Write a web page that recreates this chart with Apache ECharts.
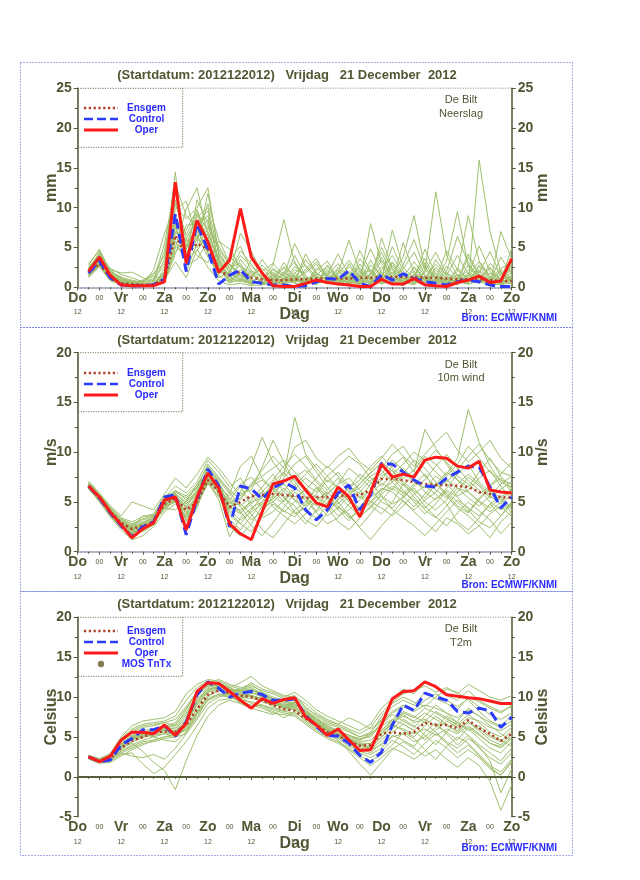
<!DOCTYPE html>
<html><head><meta charset="utf-8">
<script src="https://cdn.jsdelivr.net/npm/echarts@6/dist/echarts.min.js"></script>
<style>html,body{margin:0;padding:0;background:#fff}#c{width:640px;height:880px}</style>
</head><body><div id="c"></div>
<script>
// forecast lead time (hours after 2012-12-20 12 UTC)
const hours = [6,12,18,24,30,36,42,48,54,60,66,72,78,84,90,96,102,108,114,120,126,132,138,144,150,156,162,168,174,180,186,192,198,204,210,216,222,228,234,240];
const dayLabels = ['Do','Vr','Za','Zo','Ma','Di','Wo','Do','Vr','Za','Zo'];
const titleText = '(Startdatum: 2012122012)   Vrijdag   21 December  2012';

// ---------- Neerslag (mm) ----------
const precipOper = [2.0,3.8,1.5,0.3,0.2,0.2,0.2,0.7,13.2,3.0, 8.4,5.7,1.9,3.4,9.9,3.8,1.8,0.2,0.1,0.1, 0.5,0.9,0.6,0.4,0.3,0.1,0.1,1.0,0.4,0.4, 1.1,0.3,0.2,0.1,0.6,0.9,1.4,0.6,0.8,3.6];
const precipControl = [1.8,3.3,1.2,0.3,0.2,0.2,0.3,1.0,9.2,2.0, 8.0,4.7,0.4,1.5,2.2,0.7,0.5,0.3,0.3,0.1, 0.2,0.7,1.1,1.0,2.1,0.5,0.1,1.6,0.9,1.7, 1.1,0.7,0.5,0.3,0.7,0.9,0.7,0.3,0.1,0.1];
const precipEnsgem = [1.8,3.0,1.2,0.5,0.4,0.3,0.4,1.0,6.5,4.0, 5.5,4.8,2.0,1.5,2.0,1.2,1.0,0.9,0.9,1.0, 1.0,1.1,1.1,1.1,1.1,1.2,1.2,1.3,1.3,1.3, 1.3,1.2,1.2,1.1,1.0,1.0,1.0,0.9,0.8,0.8];
const precipMembers = [
[1.8,3.5,1.4,0.6,0.3,0.2,0.4,1.2,7.5,4.0, 6.0,5.2,2.1,1.0,1.8,0.8,0.5,1.5,2.4,1.0, 0.6,1.8,0.9,0.3,1.2,2.5,0.8,1.9,0.6,0.2, 1.4,3.1,0.9,0.4,1.6,0.8,2.2,0.5,0.3,1.1],
[2.3,4.1,1.8,0.9,0.5,0.3,0.2,2.4,11.0,6.5, 9.5,7.0,3.2,0.6,0.9,2.1,1.2,0.4,0.8,2.6, 1.5,0.4,2.8,1.1,0.5,0.9,3.4,1.2,0.4,1.8, 0.7,0.3,2.5,1.0,0.6,3.8,1.4,0.9,2.0,0.6],
[1.5,2.8,1.0,0.4,0.2,0.1,0.6,3.5,14.5,2.0, 5.5,11.8,4.5,2.2,0.8,0.4,1.0,2.8,8.5,3.0, 0.9,1.5,0.4,2.0,0.7,0.3,1.6,5.0,2.2,0.5, 0.9,1.3,0.4,2.7,1.1,0.4,0.8,2.5,1.0,0.4],
[2.0,3.8,2.4,1.6,1.2,0.7,1.4,0.9,5.0,9.8, 12.5,6.5,1.6,3.4,5.2,2.0,0.6,0.2,1.2,0.6, 2.3,3.6,1.2,0.5,3.0,1.0,0.4,0.9,7.2,2.5, 1.1,0.6,1.8,0.5,0.9,2.2,0.6,1.8,0.8,4.9],
[1.2,2.6,0.8,0.3,0.1,0.2,0.3,1.8,9.0,5.5, 4.0,3.1,5.8,4.8,2.5,1.2,3.5,1.6,0.5,1.8, 0.8,0.3,1.6,4.2,1.5,0.6,8.0,3.0,1.2,0.8, 2.4,1.0,0.4,1.5,4.0,1.6,0.7,0.3,1.2,2.2],
[2.8,4.8,1.9,1.1,0.8,0.5,0.3,0.7,4.2,7.8, 8.0,9.6,2.8,1.6,6.8,4.5,1.8,0.7,0.3,0.9, 0.4,1.2,0.6,1.8,5.9,2.0,0.9,0.5,1.6,3.8, 9.0,2.4,1.2,0.6,0.3,1.5,3.2,1.1,0.5,0.9],
[1.6,3.0,1.2,0.5,0.4,0.3,0.8,4.6,12.0,3.5, 6.8,8.5,3.5,0.8,1.2,0.3,0.9,2.2,1.4,5.5, 2.6,1.0,0.5,0.9,0.3,1.4,2.2,0.8,3.2,1.5, 0.5,1.9,12.0,4.0,1.4,0.8,2.6,0.9,0.4,1.5],
[2.5,3.2,2.0,1.3,0.6,0.4,2.2,6.8,10.2,8.6, 10.0,12.5,4.0,2.5,3.0,1.0,0.4,0.9,3.1,1.2, 0.5,2.1,3.3,1.0,0.6,2.9,1.1,0.4,0.9,2.3, 4.4,1.6,0.8,3.3,9.5,2.6,1.0,0.5,1.6,0.8],
[1.9,3.6,1.5,0.7,0.2,0.1,0.2,1.4,6.2,4.8, 7.2,4.2,1.2,1.9,4.0,2.6,1.3,0.5,1.9,0.8, 3.5,1.7,0.8,0.4,2.0,0.9,0.5,6.2,2.4,0.8, 0.4,2.8,1.3,0.9,2.0,9.0,3.3,1.4,0.6,2.9],
[1.4,2.9,0.9,0.4,0.3,0.2,0.5,2.0,8.0,2.8, 3.5,5.8,2.5,0.5,2.2,1.4,2.4,1.0,0.6,1.5, 1.0,0.6,1.4,3.0,1.1,0.4,1.0,2.6,0.9,0.4, 1.7,0.8,2.2,0.7,1.3,0.5,16.0,7.0,1.9,1.0],
[2.2,4.4,2.2,1.8,1.9,1.2,0.6,0.9,3.2,1.2, 4.8,2.5,0.8,0.3,0.5,0.2,0.3,1.3,0.8,2.2, 1.8,2.9,1.1,0.6,0.4,3.6,1.8,0.7,0.4,1.1, 2.0,0.9,0.5,1.2,0.6,1.8,0.9,0.4,7.0,3.5],
[1.7,3.3,1.1,0.5,0.2,0.3,0.4,1.6,9.8,10.8, 6.0,10.5,6.0,3.0,1.5,0.6,0.8,0.3,1.0,0.5, 0.3,0.8,2.0,1.5,0.8,1.9,0.6,1.3,5.1,2.0, 0.8,0.5,1.0,4.6,2.2,0.9,0.5,1.3,0.7,1.9],
[2.6,4.0,1.6,0.8,0.6,0.9,1.8,3.0,7.0,5.2, 9.2,6.0,3.8,1.2,0.7,3.5,1.6,0.8,0.4,1.3, 0.7,1.3,0.4,2.5,1.0,0.5,2.8,1.6,0.6,5.6, 1.8,0.6,3.5,1.4,0.5,2.8,1.2,2.4,0.9,0.5],
[1.3,2.7,1.0,0.6,0.4,0.2,0.3,0.6,5.8,3.2, 11.0,8.0,2.2,0.9,3.5,1.8,0.5,1.9,0.9,4.0, 1.4,0.5,0.9,0.6,2.6,1.2,0.4,1.0,1.9,0.7, 0.3,1.4,0.6,0.3,0.8,1.2,2.0,0.6,0.3,0.6],
[3.0,4.6,2.2,1.0,0.7,0.4,0.9,5.5,13.0,9.0, 7.5,4.5,1.5,0.6,1.0,0.5,2.0,3.0,1.5,0.7, 4.2,1.8,0.7,1.2,0.5,0.8,1.5,3.8,1.2,0.6, 1.0,4.8,1.6,0.8,0.4,0.9,1.8,4.5,1.4,0.7],
[1.9,3.4,1.3,0.3,0.1,0.1,0.2,1.0,4.5,6.0, 5.0,7.5,4.8,2.8,1.4,0.9,0.3,0.6,2.0,0.9, 0.6,0.9,1.8,0.7,1.4,0.5,1.3,0.6,2.7,1.0, 0.6,1.1,0.8,1.9,0.7,0.4,1.0,0.8,0.5,1.4],
[2.1,3.9,1.7,0.8,0.4,0.2,0.5,1.9,8.6,5.0, 7.8,9.0,3.0,1.4,2.8,1.6,0.7,1.1,0.5,1.8, 2.8,1.3,0.6,1.6,3.4,1.4,0.6,2.2,4.0,1.6, 0.5,1.2,2.9,1.5,0.4,1.6,5.2,2.0,0.8,2.6],
[1.6,3.1,1.3,0.7,0.5,0.4,0.3,1.1,6.8,7.2, 9.8,5.5,2.6,0.9,1.6,0.6,1.5,0.8,2.6,1.4, 0.5,2.4,1.5,0.7,1.0,4.6,2.0,0.9,0.5,2.8, 6.0,2.2,1.0,0.5,2.4,1.0,0.6,3.0,1.8,0.9],
[2.4,4.3,2.0,1.2,0.9,0.6,1.1,2.7,12.6,4.4, 6.3,7.8,5.2,2.8,1.1,0.7,0.4,1.6,1.1,0.6, 1.2,0.7,2.3,0.9,0.6,1.6,4.8,1.8,0.7,1.3, 3.2,1.4,0.6,2.0,6.4,3.0,1.2,0.6,2.2,1.2],
[1.5,2.6,1.1,0.4,0.2,0.1,0.2,0.8,5.2,3.8, 4.6,6.8,3.4,2.0,4.6,2.9,1.1,0.5,1.7,3.2, 1.1,0.5,1.0,2.2,0.8,0.4,1.8,4.4,1.6,0.6, 1.5,3.6,1.2,0.6,1.0,4.2,1.6,0.8,3.8,1.6],
[2.0,3.7,1.6,0.9,0.6,0.8,1.6,4.0,10.6,6.0, 8.8,10.0,4.2,1.8,0.9,0.5,0.8,2.4,1.3,0.8, 2.0,3.2,1.4,0.5,1.8,0.9,0.5,1.4,3.0,1.2, 0.6,2.0,4.4,1.7,0.8,0.5,2.8,1.4,0.5,1.2],
[1.8,3.2,1.2,0.5,0.3,0.2,0.4,1.5,7.9,5.8, 6.6,3.8,1.8,3.8,2.6,1.2,2.8,1.4,0.6,1.1, 0.8,1.6,2.6,1.3,0.6,2.2,1.0,3.4,1.3,0.5, 2.6,1.1,0.5,0.9,1.6,0.7,1.5,1.0,2.4,3.0]
];

// ---------- 10m wind (m/s) ----------
const windOper = [6.6,5.5,4.0,2.7,1.4,2.3,2.9,5.2,5.5,2.2, 5.5,7.9,6.4,2.8,1.8,1.2,4.0,6.8,7.1,7.6, 6.2,4.9,4.5,6.5,5.5,3.5,6.0,8.8,7.5,7.8, 7.5,9.2,9.5,9.4,8.6,8.4,9.1,6.2,6.0,5.9];
const windControl = [6.6,5.4,3.9,2.6,1.5,2.5,3.0,5.5,5.7,1.7, 5.3,8.3,6.6,2.5,6.6,6.3,5.3,6.4,7.0,6.4, 4.2,3.2,4.2,5.9,6.7,4.2,5.7,8.9,8.8,8.0, 7.2,6.6,6.5,7.4,8.0,8.6,8.5,6.5,4.4,5.5];
const windEnsgem = [6.6,5.4,4.0,2.9,2.3,2.6,3.0,4.8,5.3,4.2, 5.0,7.2,6.0,4.5,5.0,5.6,5.7,5.8,5.7,5.6, 5.4,5.5,5.5,5.6,5.6,5.7,6.2,7.3,7.3,7.2, 7.0,6.8,6.7,6.7,6.6,6.5,6.0,5.8,5.5,5.4];
const windMembers = [
[6.8,5.6,4.2,3.1,2.4,2.8,3.2,5.0,5.6,4.5, 6.2,8.0,6.8,4.5,3.8,5.2,6.5,7.8,6.0,5.2, 4.6,5.8,7.2,6.4,5.0,4.3,6.0,7.6,8.2,7.0, 6.1,5.4,6.8,8.0,7.2,6.0,5.1,4.4,5.5,6.2],
[6.5,5.2,3.6,2.4,1.8,2.2,2.8,4.4,5.0,3.6, 5.5,7.6,6.4,5.6,6.8,7.5,6.2,5.0,4.1,3.5, 4.8,6.5,5.6,4.2,3.1,4.5,5.8,6.9,6.2,7.8, 9.2,8.4,7.0,5.8,4.6,3.9,5.2,6.6,7.4,6.0],
[7.0,5.8,4.5,3.4,3.0,3.5,3.8,5.6,6.0,5.4, 6.5,8.8,7.5,6.0,4.5,3.2,4.0,5.5,7.4,8.8, 9.6,8.0,6.5,5.2,6.4,7.8,7.0,5.6,4.8,5.4, 6.6,7.2,8.6,9.8,8.4,7.1,6.2,5.0,4.2,4.8],
[6.6,5.3,3.9,2.7,2.0,2.4,3.0,4.6,5.4,2.0, 5.0,7.8,5.8,2.5,1.6,2.8,4.6,6.0,6.8,5.5, 6.2,4.8,3.6,4.4,5.6,6.8,7.9,9.0,8.1,6.8, 5.5,4.2,3.4,4.6,6.0,7.5,6.6,5.4,6.3,7.0],
[6.4,5.0,3.5,2.2,1.2,1.6,2.5,4.0,4.8,4.0, 5.8,7.2,6.0,4.8,5.8,6.2,8.5,11.2,9.0,7.0, 5.6,4.0,4.9,6.0,5.2,4.4,5.5,6.2,7.0,8.4, 7.3,6.0,5.2,6.4,7.8,8.8,7.0,6.0,5.2,4.5],
[6.9,5.7,4.4,3.3,2.7,3.2,3.5,5.2,5.8,4.8, 6.0,8.5,7.0,3.6,2.8,4.2,5.6,6.5,5.4,4.6, 3.2,2.5,3.9,5.2,6.6,5.8,4.9,6.0,7.4,6.2, 5.0,3.8,4.8,6.2,5.5,4.2,3.0,2.4,3.6,5.0],
[6.7,5.5,4.1,2.9,2.6,3.0,3.3,5.4,6.6,5.9, 7.0,9.2,8.0,6.5,7.4,5.8,4.4,5.0,6.1,7.5, 8.2,7.0,5.8,6.8,8.4,7.5,6.4,7.2,8.6,9.5, 8.0,12.3,10.4,8.8,7.2,6.5,8.0,9.4,7.6,6.4],
[6.3,5.1,3.7,2.5,1.9,2.6,3.1,4.2,5.2,3.2, 4.6,7.0,5.5,5.0,3.9,4.8,6.0,4.5,3.6,2.8, 3.8,5.2,6.0,5.0,3.6,2.5,3.8,5.2,6.4,5.6, 4.5,5.8,6.9,5.6,4.4,3.6,2.6,3.8,4.6,3.5],
[6.8,5.4,4.0,3.0,2.2,2.0,2.7,4.8,5.5,4.4, 5.4,8.0,6.6,4.2,6.0,8.6,11.5,9.0,7.6,13.5, 9.8,8.4,7.0,8.0,6.6,5.4,6.8,8.4,9.8,10.6, 9.0,7.6,6.5,7.8,9.4,14.3,11.0,8.6,7.0,6.4],
[6.6,5.6,4.3,3.2,2.5,2.1,2.9,5.0,5.1,2.6, 4.4,7.4,6.2,5.2,4.0,2.6,1.6,2.9,4.4,6.0, 5.2,3.9,2.8,3.4,4.8,5.6,4.6,3.8,5.0,6.8, 5.9,4.6,3.5,2.6,3.9,5.0,4.1,3.2,1.8,3.0],
[7.1,5.9,4.6,3.6,5.0,4.6,4.2,5.8,7.4,6.4, 7.8,9.5,8.4,7.0,5.6,6.8,7.6,8.4,9.2,8.0, 6.8,6.0,7.6,8.6,9.6,8.8,7.4,6.6,7.8,8.8, 10.0,9.2,8.0,7.0,8.2,9.6,10.8,9.2,8.0,7.6],
[6.5,5.3,3.8,2.6,1.6,2.3,3.4,4.6,5.0,4.2, 5.2,7.0,5.2,1.5,3.4,4.4,5.0,6.4,5.6,4.0, 2.8,4.2,5.4,4.6,3.4,4.0,5.0,4.4,3.6,4.6, 5.8,6.6,5.8,4.8,3.0,2.2,3.4,4.8,5.6,4.2],
[6.4,5.2,3.8,2.8,2.4,3.6,3.6,4.4,4.2,5.0, 6.8,7.8,6.6,5.4,4.6,5.5,6.0,7.2,8.6,9.8, 8.6,7.2,6.2,7.4,6.0,6.8,8.0,8.8,7.6,6.6, 7.8,9.0,10.2,9.0,7.6,6.8,5.8,6.6,7.8,9.0],
[6.7,5.4,3.9,2.6,1.8,2.5,2.7,4.9,5.7,3.9, 4.8,6.8,5.6,4.0,2.8,2.0,3.6,4.8,4.0,5.0, 6.4,5.4,4.5,3.0,2.2,3.4,4.6,5.6,4.2,3.4, 2.6,1.6,2.8,4.0,5.2,4.4,3.6,4.8,3.6,4.8],
[6.6,5.5,4.1,3.0,2.3,2.7,3.2,5.1,6.2,5.2, 6.4,8.2,7.2,5.8,8.6,9.6,7.4,6.2,8.0,10.5, 11.2,9.4,8.4,9.6,10.4,9.0,8.2,9.4,10.8,9.6, 8.6,9.8,11.0,12.0,10.2,9.0,10.0,11.2,9.4,8.4],
[6.5,5.4,4.0,2.8,2.1,2.9,3.6,5.3,5.9,3.0, 5.6,7.5,6.2,4.6,4.8,3.8,2.2,1.4,2.8,4.2, 5.0,6.4,5.2,4.4,3.8,2.4,1.2,2.6,3.8,5.2, 4.0,3.0,2.0,3.4,2.8,1.8,2.6,1.4,3.0,4.0],
[6.7,5.5,4.1,3.0,2.3,2.4,3.0,4.9,5.6,4.6, 5.9,7.9,6.5,4.9,5.4,6.6,7.2,6.2,5.0,6.3, 7.4,6.6,5.5,4.8,5.9,6.4,7.6,8.2,7.0,5.8, 6.8,7.8,6.2,5.4,6.8,7.8,6.8,5.6,6.8,7.6],
[6.5,5.3,3.8,2.7,2.1,2.7,3.2,4.7,5.4,3.8, 5.2,7.3,6.1,4.4,4.2,5.0,5.4,7.0,8.0,6.6, 5.4,4.6,5.8,6.8,7.4,6.2,5.0,6.4,6.0,5.0, 4.2,5.2,6.0,7.2,6.4,5.4,4.6,5.6,4.8,5.8],
[6.8,5.6,4.2,3.1,2.5,2.9,3.4,5.1,5.8,5.0, 6.1,8.2,6.9,5.2,6.6,4.6,3.4,4.0,5.2,6.6, 7.8,8.8,7.6,6.4,5.4,6.0,7.2,7.8,9.2,8.2, 7.0,6.4,7.6,6.8,5.6,6.2,7.4,8.2,6.6,5.2],
[6.6,5.4,4.0,2.8,2.2,2.6,2.9,4.7,5.3,3.4, 4.9,7.1,5.9,3.2,2.2,3.6,5.0,5.6,4.8,3.8, 4.4,5.6,4.8,3.6,4.2,5.2,6.2,5.0,4.4,5.6, 6.4,5.0,4.2,5.2,6.4,6.0,5.0,4.0,5.0,6.4],
[6.9,5.7,4.3,3.3,2.8,3.3,3.7,5.3,6.1,5.6, 6.7,8.6,7.3,6.2,5.2,6.8,8.2,9.6,8.4,7.2, 6.2,7.4,8.6,7.6,6.4,7.2,8.6,9.6,8.4,7.4, 8.2,9.6,8.8,7.6,8.8,10.6,9.4,8.0,7.2,6.8],
[6.4,5.2,3.7,2.5,1.9,2.5,2.8,4.5,5.1,3.5, 5.0,7.2,6.0,4.2,3.2,4.0,4.8,5.3,6.4,5.2, 4.0,3.4,4.6,5.6,4.6,3.6,4.4,5.8,6.6,6.0, 5.2,4.4,5.4,6.0,5.0,4.0,5.4,6.2,5.4,3.8]
];

// ---------- T2m (Celsius) ----------
const tempOper = [2.5,1.9,2.6,4.6,5.6,5.6,5.4,6.5,5.2,6.7, 10.7,11.8,11.7,10.7,9.6,8.6,9.8,9.2,9.7,9.9, 7.5,6.5,5.2,6.0,4.6,3.3,3.4,6.5,9.8,10.7, 10.8,11.9,11.3,10.3,10.1,9.9,9.8,9.5,9.2,9.2];
const tempControl = [2.5,1.9,2.1,4.0,4.8,5.9,5.9,6.4,5.1,6.9, 10.3,11.9,11.1,10.0,10.5,10.7,10.3,9.6,9.6,9.8, 7.7,6.3,5.2,5.1,4.2,2.7,1.8,3.1,6.5,9.0, 8.3,10.5,10.0,9.6,8.2,8.0,8.6,8.3,6.2,7.5];
const tempEnsgem = [2.5,2.0,2.3,3.6,4.5,5.0,5.5,5.7,5.6,6.5, 8.5,10.3,10.8,10.5,10.2,10.0,9.6,9.0,8.5,8.3, 7.3,6.5,5.6,5.2,4.4,3.9,4.0,5.4,5.6,5.4, 5.6,6.8,6.5,6.5,6.1,7.1,6.1,5.4,4.5,5.4];
const tempMos = [];
const tempMembers = [
[2.6,2.1,2.5,4.2,5.2,5.6,5.8,6.2,6.0,7.5, 10.2,11.4,11.6,11.0,10.6,10.9,10.2,9.6,9.0,9.2, 8.0,7.0,6.2,5.6,5.0,4.4,4.6,5.8,7.2,8.0, 7.4,8.6,8.0,7.2,6.6,7.8,6.8,5.6,5.0,6.2],
[2.4,1.9,2.2,3.4,4.4,4.9,5.4,5.6,5.2,6.2, 8.6,10.8,11.2,10.4,10.0,10.2,9.8,9.2,8.6,8.4, 7.4,6.4,5.8,5.2,4.2,3.2,2.8,3.6,5.2,4.6, 3.8,5.6,6.8,5.4,4.0,5.2,3.6,2.4,1.6,3.0],
[2.5,2.0,2.6,4.6,5.8,6.4,6.6,6.8,6.4,8.4, 10.8,11.8,12.2,11.6,11.2,11.4,10.8,10.4,9.8,10.2, 8.8,7.6,6.8,6.4,5.8,5.0,5.6,7.2,8.8,9.6, 9.0,10.6,9.8,9.2,8.4,10.0,9.4,8.6,8.0,9.0],
[2.2,1.7,1.8,2.6,3.4,4.0,4.6,5.0,5.4,5.8, 7.4,9.8,10.4,10.0,9.6,9.4,9.0,8.4,8.0,7.8, 6.8,5.8,5.0,4.4,3.6,2.6,2.0,2.8,4.0,5.6, 4.8,3.4,2.2,3.8,5.0,4.2,2.8,1.4,0.6,2.2],
[2.7,2.2,2.8,4.8,6.0,6.6,6.8,7.0,7.6,9.6, 11.2,12.0,11.8,11.2,11.8,12.6,11.4,10.8,10.2,10.0, 9.2,8.0,7.2,6.6,6.0,5.4,6.2,8.0,9.4,10.4, 10.8,11.4,10.6,11.2,10.4,11.6,10.8,10.0,9.6,10.2],
[2.3,1.8,2.0,2.8,3.0,1.6,0.4,1.2,2.8,4.4, 6.4,8.6,9.6,9.8,10.0,9.2,8.8,8.2,7.4,8.2, 7.0,6.0,5.4,4.8,3.8,3.4,4.0,5.4,6.6,5.8, 5.0,6.4,7.6,6.6,5.6,6.8,5.8,4.6,4.0,5.4],
[2.5,1.9,2.3,3.8,4.8,5.2,5.6,5.8,5.6,7.0, 9.4,11.0,11.4,11.2,10.6,10.0,9.6,9.4,8.8,8.6, 7.6,6.6,5.6,5.0,4.6,3.8,3.4,4.6,6.0,7.2, 6.4,5.2,4.0,5.6,7.0,8.6,7.6,6.4,5.4,4.6],
[2.6,2.0,2.4,4.0,5.0,5.4,5.0,4.6,4.4,5.6, 8.0,10.0,11.0,10.8,10.4,10.6,10.0,9.8,9.4,9.0, 8.4,7.4,6.4,5.8,5.2,4.8,5.0,6.6,7.8,7.0, 6.2,7.6,9.0,8.0,6.8,6.0,4.8,3.6,3.0,4.4],
[2.4,2.0,2.4,3.6,4.2,3.2,1.8,0.8,-1.6,2.0, 5.2,7.6,9.0,9.6,9.2,8.6,8.2,7.8,8.6,9.4, 8.0,6.8,6.0,5.4,4.8,4.0,3.6,5.0,6.4,8.2, 7.6,6.8,5.6,4.4,3.6,4.8,3.8,2.0,-2.0,1.0],
[2.5,2.1,2.6,4.4,5.4,5.8,6.0,6.4,6.2,7.8, 9.8,11.2,11.6,10.8,10.2,10.4,10.6,10.0,9.6,10.0, 8.6,7.8,7.0,6.6,7.4,6.8,6.0,7.0,8.2,9.0, 8.4,9.6,10.4,9.6,8.8,9.8,8.8,7.8,7.2,8.0],
[2.3,1.8,2.1,3.2,4.0,4.6,5.0,5.4,5.0,6.0, 8.2,10.2,10.8,10.2,9.8,10.2,9.6,8.8,8.2,8.0, 7.2,6.2,5.4,4.6,3.2,1.6,0.2,1.8,3.4,4.4, 3.6,2.6,3.4,2.2,1.2,2.4,1.4,-0.6,-4.2,-1.0],
[2.6,2.1,2.6,4.4,5.6,6.2,6.4,6.8,7.2,8.8, 10.6,11.6,11.8,11.0,10.8,11.0,10.4,9.8,9.4,9.6, 8.4,7.2,6.2,5.6,5.2,4.6,5.4,7.6,9.2,10.0, 9.4,8.8,10.0,11.0,10.6,9.6,8.2,7.0,6.4,7.6],
[2.4,1.9,2.2,3.6,4.6,5.0,5.2,5.4,5.8,6.8, 9.0,10.6,11.0,10.6,10.8,11.6,10.6,9.6,8.8,9.0, 8.2,7.0,6.0,5.4,4.4,3.6,3.0,4.2,5.6,6.6, 5.8,4.6,5.8,7.0,6.2,5.2,4.0,3.0,2.0,3.6],
[2.7,2.3,2.9,5.0,6.4,7.0,7.2,7.4,8.2,10.4, 11.6,12.2,12.0,11.4,11.0,11.8,11.0,10.6,10.0,10.6, 9.6,8.4,7.6,7.0,6.4,5.8,6.6,8.6,9.8,11.0, 10.4,11.8,11.2,10.2,9.6,10.8,9.6,8.8,8.2,8.8],
[2.5,2.0,2.3,3.0,2.6,2.4,2.8,2.2,3.6,5.4, 7.2,9.2,10.0,10.4,9.2,8.8,9.0,8.6,8.2,8.8, 7.8,6.8,6.0,5.0,4.0,3.0,2.4,3.2,4.6,3.8, 2.8,4.2,5.4,4.2,3.0,4.0,2.6,1.2,0.2,1.8],
[2.5,2.0,2.5,4.0,5.0,5.4,5.8,6.0,5.8,7.2, 9.6,11.0,11.2,10.6,10.2,10.2,9.4,9.0,8.8,8.8, 7.8,6.6,5.8,5.2,4.6,4.0,4.2,5.4,6.8,7.6, 7.0,8.0,7.2,6.4,5.8,7.0,6.0,5.0,4.4,5.8],
[2.5,2.0,2.4,3.9,4.9,5.3,5.7,6.1,6.6,8.0, 10.4,11.6,11.4,10.8,11.0,11.2,10.4,9.8,9.2,9.4, 8.2,7.2,6.4,5.8,5.2,4.6,5.2,6.8,8.0,8.8, 8.2,9.0,8.6,8.0,7.4,8.4,7.6,6.8,6.2,7.0],
[2.4,1.9,2.3,3.7,4.7,5.3,5.5,5.9,5.5,6.6, 9.2,10.6,11.0,10.6,10.4,10.2,9.8,9.2,8.6,8.8, 7.8,6.8,5.8,5.2,4.6,4.0,3.8,5.0,6.4,6.0, 5.4,6.0,5.2,6.0,5.4,6.4,5.4,4.2,3.6,4.8],
[2.6,2.1,2.5,4.1,5.1,5.5,5.9,6.3,6.8,8.6, 10.6,11.4,11.4,10.8,10.8,11.0,10.2,9.6,9.0,9.2, 8.0,6.8,6.0,5.4,4.8,4.2,4.2,5.6,7.0,7.8, 6.8,7.2,6.4,5.6,4.6,6.2,5.2,4.2,3.8,5.0],
[2.4,1.9,2.2,3.2,3.8,4.4,4.6,5.0,5.2,6.0, 8.0,9.6,10.4,10.2,10.0,9.8,9.6,9.2,8.8,8.6, 7.6,6.6,5.8,5.4,4.8,4.2,3.4,4.0,5.0,5.4, 4.4,5.0,6.2,7.6,6.8,5.8,6.4,5.2,4.6,3.8],
[2.5,2.0,2.4,3.8,4.8,5.1,5.4,5.8,5.6,6.8, 9.4,10.8,11.4,11.0,10.6,10.6,10.0,9.4,8.8,9.2, 8.0,7.2,6.6,6.2,5.6,5.0,5.4,6.4,7.2,6.6, 5.8,7.0,8.2,7.4,6.4,7.4,7.0,6.2,5.8,6.6],
[2.3,1.8,2.0,3.0,3.6,4.2,4.4,4.8,5.0,5.4, 7.8,9.6,10.2,10.0,9.4,9.0,8.6,8.0,7.8,7.6, 6.6,5.6,4.8,4.2,3.4,2.4,1.4,2.4,3.6,3.0, 2.2,3.2,4.6,3.6,2.4,3.4,2.4,1.0,0.2,2.0]
];

// ---------- layout / style ----------
const FONT = 'Liberation Sans, Arial, sans-serif';
const TXT = '#4f5733';
const BLUE = '#2b2bff';
const GREEN = '#9fc06f';
const GL = 77.7, GW = 434;
const panels = [
  {top: 88.3, height: 199, min: 0, max: 25, unit: 'mm', station: 'Neerslag',
   oper: precipOper, control: precipControl, ensgem: precipEnsgem, members: precipMembers,
   frameTop: 62, frameBottom: 327, legendTop: 98, legendH: 59, bronY: 318, mos: false},
  {top: 352.7, height: 199, min: 0, max: 20, unit: 'm/s', station: '10m wind',
   oper: windOper, control: windControl, ensgem: windEnsgem, members: windMembers,
   frameTop: 327, frameBottom: 591, legendTop: 363, legendH: 59, bronY: 585, mos: false},
  {top: 617.3, height: 199.4, min: -5, max: 20, unit: 'Celsius', station: 'T2m',
   oper: tempOper, control: tempControl, ensgem: tempEnsgem, members: tempMembers,
   frameTop: 591, frameBottom: 855, legendTop: 621, legendH: 59, bronY: 848, mos: true}
];

// legend icon shapes (34 x 9 box)
function boxPath(inner) { return 'path://M0,0h0.05v0.05h-0.05zM33.95,8.95h0.05v0.05h-0.05z' + inner; }
function segs(len, gap) {
  let s = '', x = 0;
  while (x < 34) { const w = Math.min(len, 34 - x); s += 'M' + x + ',3.2h' + w + 'v2.6h-' + w + 'z'; x += len + gap; }
  return s;
}
const ICONS = {
  'Ensgem': boxPath(segs(2.2, 2.6)),
  'Control': boxPath(segs(9, 4)),
  'Oper': boxPath('M0,3h34v3h-34z'),
  'MOS TnTx': boxPath('M20.2,4.5a3.2,3.2 0 1,0 -6.4,0a3.2,3.2 0 1,0 6.4,0z')
};

const pairs = arr => hours.map((h, i) => [h, arr[i]]);

const grid = [], xAxis = [], yAxis = [], series = [], legend = [], graphic = [];
panels.forEach((p, k) => {
  grid.push({left: GL, top: p.top, width: GW, height: p.height, containLabel: false});
  xAxis.push({
    gridIndex: k, type: 'value', min: 0, max: 240, interval: 12,
    name: 'Dag', nameLocation: 'middle', nameGap: 19, nameMoveOverlap: false,
    nameTextStyle: {fontSize: 16, fontWeight: 'bold', color: TXT, fontFamily: FONT, backgroundColor: '#fff', padding: [0, 2]},
    axisLine: {show: true, lineStyle: {color: '#7f8fa8', type: 'dotted', width: 1.5}},
    axisTick: {show: true, length: 3, lineStyle: {color: TXT}},
    minorTick: {show: true, splitNumber: 2, length: 2, lineStyle: {color: TXT}},
    splitLine: {show: false},
    axisLabel: {
      margin: 3, showMinLabel: true, showMaxLabel: true,
      formatter: v => {
        const d = v / 24;
        return Number.isInteger(d) ? '{d|' + dayLabels[d] + '}\n{s|12}' : '{z|00}';
      },
      rich: {
        d: {fontSize: 14, fontWeight: 'bold', color: TXT, lineHeight: 15, fontFamily: FONT},
        s: {fontSize: 7, color: TXT, lineHeight: 14, fontFamily: FONT},
        z: {fontSize: 7, color: TXT, lineHeight: 15, fontFamily: FONT}
      }
    }
  });
  ['left', 'right'].forEach(pos => {
    yAxis.push({
      gridIndex: k, type: 'value', position: pos, min: p.min, max: p.max, interval: 5,
      name: p.unit, nameLocation: 'middle', nameGap: pos === 'left' ? 18 : 23, nameMoveOverlap: false,
      nameTextStyle: {fontSize: 16, fontWeight: 'bold', color: TXT, fontFamily: FONT},
      axisLine: {show: true, lineStyle: {color: TXT, width: 1.5}},
      axisTick: {show: true, length: 4, lineStyle: {color: TXT}},
      minorTick: {show: true, splitNumber: 2, length: 3, lineStyle: {color: TXT}},
      splitLine: {show: false},
      axisLabel: {fontSize: 14, fontWeight: 'bold', color: TXT, fontFamily: FONT, margin: 6}
    });
  });
  const xi = k, yi = k * 2;
  p.members.forEach((m, j) => series.push({
    name: 'member' + k + '_' + j, type: 'line', xAxisIndex: xi, yAxisIndex: yi,
    data: pairs(m), symbol: 'none', silent: true, z: 1,
    lineStyle: {color: GREEN, width: 1}
  }));
  const ens = {
    name: 'Ensgem', type: 'line', xAxisIndex: xi, yAxisIndex: yi, data: pairs(p.ensgem),
    symbol: 'none', z: 3, color: '#b03a24',
    lineStyle: {color: '#b03a24', width: 2.5, type: [2, 3]}
  };
  if (p.mos) {
    ens.markLine = {silent: true, symbol: 'none', label: {show: false},
      lineStyle: {color: '#55603a', width: 2, type: 'solid'}, data: [{yAxis: 0}]};
  }
  series.push(ens);
  series.push({
    name: 'Control', type: 'line', xAxisIndex: xi, yAxisIndex: yi, data: pairs(p.control),
    symbol: 'none', z: 4, color: '#2b3bff',
    lineStyle: {color: '#2b3bff', width: 3, type: [10, 5]}
  });
  series.push({
    name: 'Oper', type: 'line', xAxisIndex: xi, yAxisIndex: yi, data: pairs(p.oper),
    symbol: 'none', z: 5, color: '#ff1a1a',
    lineStyle: {color: '#ff1a1a', width: 3}
  });
  const names = ['Ensgem', 'Control', 'Oper'];
  if (p.mos) {
    series.push({name: 'MOS TnTx', type: 'scatter', xAxisIndex: xi, yAxisIndex: yi,
      data: tempMos, symbolSize: 7, itemStyle: {color: '#6a5a2a'}});
    names.push('MOS TnTx');
  }
  legend.push({
    data: names.map(n => ({name: n, icon: ICONS[n]})), orient: 'vertical', left: 79, top: p.legendTop,
    itemWidth: 34, itemHeight: 9, itemGap: 1, selectedMode: false,
    formatter: n => '{c|' + n + '}',
    textStyle: {color: BLUE, fontSize: 10, fontWeight: 'bold', fontFamily: FONT, lineHeight: 10,
      rich: {c: {width: 47, align: 'center', color: BLUE, fontSize: 10, fontWeight: 'bold', fontFamily: FONT, lineHeight: 10}}}
  });
  // frame, legend box, top border, texts
  graphic.push({type: 'rect', shape: {x: 20.5, y: p.frameTop + 0.5, width: 552, height: p.frameBottom - p.frameTop},
    style: {fill: null, stroke: '#4a5ad0', lineWidth: 1, lineDash: [1, 2]}, silent: true, z: 0});
  graphic.push({type: 'rect', shape: {x: GL, y: p.top, width: 105, height: p.legendH},
    style: {fill: null, stroke: '#5a6238', lineWidth: 1, lineDash: [1, 1.5]}, silent: true, z: 10});
  graphic.push({type: 'line', shape: {x1: GL + 105, y1: p.top, x2: GL + GW, y2: p.top},
    style: {stroke: '#a7afa0', lineWidth: 1.5, lineDash: [1, 1.5]}, silent: true, z: 10});
  graphic.push({type: 'text', x: 287, y: p.frameTop + 13, style: {text: titleText, font: 'bold 13px ' + FONT, fill: TXT, textAlign: 'center', textVerticalAlign: 'middle'}, silent: true, z: 10});
  graphic.push({type: 'text', x: 461, y: p.top + 12, style: {text: 'De Bilt', font: '11px ' + FONT, fill: TXT, textAlign: 'center', textVerticalAlign: 'middle'}, silent: true, z: 10});
  graphic.push({type: 'text', x: 461, y: p.top + 25.5, style: {text: p.station, font: '11px ' + FONT, fill: TXT, textAlign: 'center', textVerticalAlign: 'middle'}, silent: true, z: 10});
  graphic.push({type: 'text', x: 557, y: p.bronY, style: {text: 'Bron: ECMWF/KNMI', font: 'bold 10px ' + FONT, fill: BLUE, textAlign: 'right', textVerticalAlign: 'middle'}, silent: true, z: 10});
});

const chart = echarts.init(document.getElementById('c'), null, {renderer: 'canvas'});
chart.setOption({
  backgroundColor: '#ffffff', animation: false,
  textStyle: {fontFamily: FONT},
  grid, xAxis, yAxis, series, legend, graphic
});
</script></body></html>
